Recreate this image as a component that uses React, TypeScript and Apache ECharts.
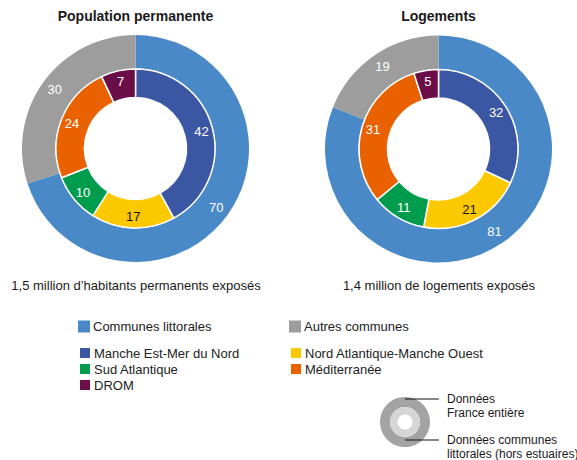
import React, { useEffect, useRef } from "react";
import * as echarts from "echarts";

const outerNames = ["Communes littorales", "Autres communes"];
const innerNames = ["Manche Est-Mer du Nord", "Nord Atlantique-Manche Ouest", "Sud Atlantique", "Méditerranée", "DROM"];
const popOuter = [70, 30];
const popInner = [42, 17, 10, 24, 7];
const logOuter = [81, 19];
const logInner = [32, 21, 11, 31, 5];
const outerColors = ["#4a89c8", "#9d9d9d"];
const innerColors = ["#3b56a3", "#fcc900", "#009c4e", "#ea6100", "#6b0d47"];
const innerLabelColors = ["#ffffff", "#111111", "#ffffff", "#ffffff", "#ffffff"];

const FONT = "'Liberation Sans', Arial, Helvetica, sans-serif";

function ringSeries(vals: number[], names: string[], colors: string[], labelColors: string[] | null, center: number[], radius: number[], inner: boolean) {
  return {
    type: "pie",
    center,
    radius,
    startAngle: 90,
    clockwise: true,
    silent: true,
    avoidLabelOverlap: false,
    label: { show: true, position: "inside", formatter: "{c}", fontSize: 13, fontFamily: FONT, color: "#fff" },
    labelLine: { show: false },
    emphasis: { disabled: true },
    itemStyle: inner ? { borderColor: "#fff", borderWidth: 1.5 } : { borderWidth: 0 },
    data: vals.map((v, i) => ({
      value: v,
      name: names[i],
      itemStyle: { color: colors[i] },
      label: labelColors ? { color: labelColors[i] } : undefined,
    })),
  };
}

export default function App() {
  const ref = useRef<HTMLDivElement>(null);
  useEffect(() => {
    if (!ref.current) return;
    const chart = echarts.init(ref.current, undefined, { renderer: "svg" });
    const legendBase = {
      selectedMode: false,
      icon: "rect",
      itemWidth: 12,
      itemHeight: 12,
      itemGap: 2,
      orient: "vertical",
      padding: 0,
      textStyle: { fontSize: 13, fontFamily: FONT, color: "#222", padding: [0, 0, 0, -2] },
    };
    const txt = (text: string, x: number, y: number, size: number, bold = false, align = "center") => ({
      type: "text",
      silent: true,
      style: {
        text,
        x,
        y,
        textAlign: align,
        textVerticalAlign: "middle",
        font: `${bold ? "bold " : ""}${size}px ${FONT}`,
        fill: "#1a1a1a",
      },
    });
    chart.setOption({
      animation: false,
      backgroundColor: "#fff",
      legend: [
        { ...legendBase, left: 78, top: 320, data: [outerNames[0]] },
        { ...legendBase, left: 289, top: 320, data: [outerNames[1]] },
        { ...legendBase, left: 78, top: 346, data: [innerNames[0], innerNames[2], innerNames[4]] },
        { ...legendBase, left: 289, top: 346, data: [innerNames[1], innerNames[3]] },
      ],
      series: [
        ringSeries(popOuter, outerNames, outerColors, null, [135.5, 148.5], [80, 113.5], false),
        ringSeries(popInner, innerNames, innerColors, innerLabelColors, [135.5, 148.5], [51, 79.5], true),
        ringSeries(logOuter, outerNames, outerColors, null, [438.5, 149], [80, 113.5], false),
        ringSeries(logInner, innerNames, innerColors, innerLabelColors, [438.5, 149], [51, 79.5], true),
      ],
      graphic: [
        txt("Population permanente", 135.5, 16, 14, true),
        txt("Logements", 438.5, 16, 14, true),
        txt("1,5 million d\u2019habitants permanents exposés", 136, 285, 13),
        txt("1,4 million de logements exposés", 439, 285, 13),
        { type: "ring", silent: true, shape: { cx: 405, cy: 422, r: 25, r0: 15 }, style: { fill: "#a3a3a3" } },
        { type: "ring", silent: true, shape: { cx: 405, cy: 422, r: 15, r0: 7.5 }, style: { fill: "#d6d6d6" } },
        { type: "line", silent: true, shape: { x1: 405, y1: 399, x2: 439, y2: 399 }, style: { stroke: "#111", lineWidth: 1 } },
        { type: "line", silent: true, shape: { x1: 405, y1: 440, x2: 439, y2: 440 }, style: { stroke: "#111", lineWidth: 1 } },
        txt("Données", 447, 399, 12, false, "left"),
        txt("France entière", 447, 413, 12, false, "left"),
        txt("Données communes", 447, 440, 12, false, "left"),
        txt("littorales (hors estuaires)", 447, 454, 12, false, "left"),
      ],
    });
    return () => chart.dispose();
  }, []);
  return <div ref={ref} style={{ position: "fixed", left: 0, top: 0, width: 577, height: 460 }} />;
}
